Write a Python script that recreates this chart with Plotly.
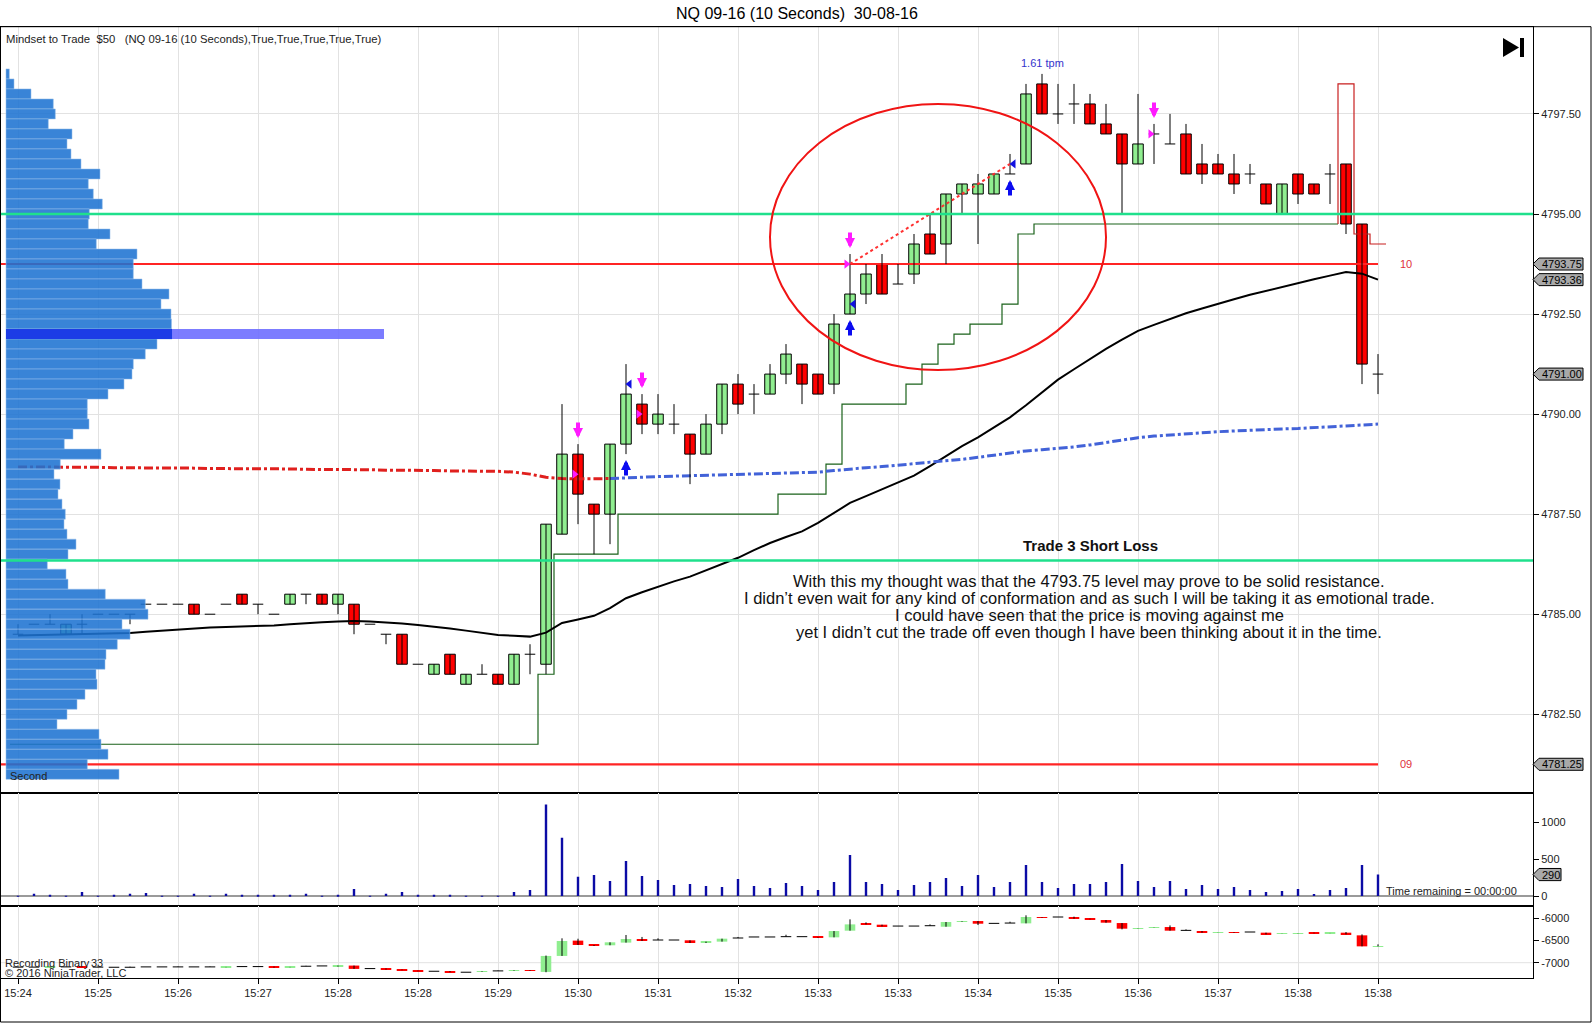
import plotly.graph_objects as go

W, H = 1594, 1024

# ---- price bars (10 second NQ 09-16) ----
TIME_LABELS = ["15:24", "15:25", "15:26", "15:27", "15:28", "15:28", "15:29", "15:30", "15:31",
               "15:32", "15:33", "15:33", "15:34", "15:35", "15:36", "15:37", "15:38", "15:38"]
LABEL_EVERY = 5

OPEN = [4784.5, 4784.75, 4784.75, 4784.5, 4784.75, 4785.0, 4785.0, 4785.0, 4785.25, 4785.25,
        4785.25, 4785.25, 4785.0, 4785.25, 4785.5, 4785.25, 4785.0, 4785.25, 4785.5, 4785.5,
        4785.25, 4785.25, 4784.75, 4784.5, 4784.5, 4783.75, 4783.5, 4784.0, 4783.25, 4783.5,
        4783.5, 4783.25, 4784.0, 4783.75, 4787.0, 4789.0, 4787.75, 4787.5, 4789.25, 4790.25,
        4789.75, 4789.75, 4789.5, 4789.0, 4789.75, 4790.75, 4790.5, 4790.5, 4791.0, 4791.25,
        4791.0, 4790.75, 4792.5, 4793.0, 4793.75, 4793.25, 4793.5, 4794.5, 4794.25, 4795.5,
        4795.5, 4795.5, 4796.0, 4796.25, 4798.25, 4797.5, 4797.75, 4797.75, 4797.25, 4797.0,
        4796.25, 4797.0, 4796.75, 4797.0, 4796.25, 4796.25, 4796.0, 4796.0, 4795.75, 4795.0,
        4796.0, 4795.75, 4796.0, 4796.25, 4794.75, 4791.0]
HIGH = [4784.75, 4784.75, 4785.0, 4784.75, 4785.0, 4785.0, 4785.0, 4785.0, 4785.25, 4785.25,
        4785.25, 4785.25, 4785.0, 4785.25, 4785.5, 4785.25, 4785.0, 4785.5, 4785.5, 4785.5,
        4785.5, 4785.25, 4784.75, 4784.5, 4784.5, 4783.75, 4783.75, 4784.0, 4783.5, 4783.75,
        4783.5, 4784.0, 4784.25, 4787.25, 4790.25, 4789.25, 4787.75, 4789.25, 4791.25, 4790.5,
        4790.5, 4790.25, 4789.5, 4790.0, 4790.75, 4791.0, 4790.75, 4791.25, 4791.75, 4791.25,
        4791.0, 4792.5, 4794.0, 4793.75, 4794.0, 4793.75, 4794.5, 4795.0, 4795.5, 4795.75,
        4796.0, 4796.0, 4796.5, 4798.25, 4798.5, 4798.25, 4798.25, 4798.0, 4797.75, 4797.0,
        4798.0, 4797.25, 4797.5, 4797.25, 4796.75, 4796.5, 4796.5, 4796.25, 4795.75, 4795.75,
        4796.0, 4795.75, 4796.25, 4796.25, 4794.75, 4791.5]
LOW = [4784.5, 4784.75, 4784.75, 4784.5, 4784.5, 4785.0, 4785.0, 4784.75, 4785.25, 4785.25,
       4785.25, 4785.0, 4785.0, 4785.25, 4785.25, 4785.0, 4785.0, 4785.25, 4785.25, 4785.25,
       4785.0, 4784.5, 4784.75, 4784.25, 4783.75, 4783.75, 4783.5, 4783.5, 4783.25, 4783.5,
       4783.25, 4783.25, 4783.5, 4783.5, 4787.0, 4787.25, 4786.5, 4786.75, 4789.0, 4789.5,
       4789.5, 4789.5, 4788.25, 4789.0, 4789.5, 4790.0, 4790.0, 4790.5, 4790.75, 4790.25,
       4790.5, 4790.5, 4792.5, 4792.75, 4793.0, 4793.25, 4793.25, 4794.0, 4793.75, 4795.0,
       4794.25, 4795.5, 4796.0, 4796.25, 4797.5, 4797.25, 4797.25, 4797.25, 4797.0, 4795.0,
       4796.25, 4796.25, 4796.75, 4796.0, 4795.75, 4796.0, 4795.5, 4795.75, 4795.25, 4795.0,
       4795.25, 4795.5, 4795.25, 4794.5, 4790.75, 4790.5]
CLOSE = [4784.5, 4784.75, 4784.75, 4784.75, 4784.75, 4785.0, 4785.0, 4785.0, 4785.25, 4785.25,
         4785.25, 4785.0, 4785.0, 4785.25, 4785.25, 4785.25, 4785.0, 4785.5, 4785.5, 4785.25,
         4785.5, 4784.75, 4784.75, 4784.5, 4783.75, 4783.75, 4783.75, 4783.5, 4783.5, 4783.5,
         4783.25, 4784.0, 4784.0, 4787.25, 4789.0, 4788.0, 4787.5, 4789.25, 4790.5, 4789.75,
         4790.0, 4789.75, 4789.0, 4789.75, 4790.75, 4790.25, 4790.5, 4791.0, 4791.5, 4790.75,
         4790.5, 4792.25, 4793.0, 4793.5, 4793.0, 4793.25, 4794.25, 4794.0, 4795.5, 4795.75,
         4795.75, 4796.0, 4796.0, 4798.0, 4797.5, 4797.5, 4797.75, 4797.25, 4797.0, 4796.25,
         4796.75, 4797.0, 4796.75, 4796.0, 4796.0, 4796.0, 4795.75, 4796.0, 4795.25, 4795.75,
         4795.5, 4795.5, 4796.0, 4794.75, 4791.25, 4791.0]

VOLUME = [3, 31, 18, 3, 54, 3, 18, 31, 40, 3,
          3, 31, 3, 31, 18, 18, 18, 18, 31, 3,
          18, 94, 3, 31, 54, 18, 18, 18, 3, 3,
          3, 54, 81, 1237, 787, 261, 283, 202, 472, 270,
          216, 148, 162, 135, 122, 230, 135, 108, 176, 135,
          81, 189, 554, 189, 162, 81, 149, 189, 243, 135,
          284, 122, 189, 419, 189, 108, 162, 162, 189, 432,
          203, 122, 203, 95, 149, 95, 122, 81, 54, 68,
          95, 27, 81, 108, 419, 290]

SMA = [4784.47, 4784.48, 4784.49, 4784.5, 4784.51, 4784.52, 4784.52, 4784.53, 4784.56, 4784.59,
       4784.62, 4784.65, 4784.67, 4784.68, 4784.69, 4784.7, 4784.72, 4784.75, 4784.78, 4784.8,
       4784.82, 4784.83, 4784.82, 4784.8, 4784.77, 4784.73, 4784.69, 4784.64, 4784.59, 4784.54,
       4784.48, 4784.46, 4784.44, 4784.54, 4784.78, 4784.87, 4784.96, 4785.15, 4785.4, 4785.55,
       4785.69, 4785.82, 4785.94, 4786.1, 4786.25, 4786.41, 4786.6, 4786.78, 4786.93, 4787.07,
       4787.28, 4787.52, 4787.78, 4787.95, 4788.12, 4788.29, 4788.46, 4788.7, 4788.95, 4789.2,
       4789.42, 4789.66, 4789.92, 4790.22, 4790.54, 4790.86, 4791.12, 4791.38, 4791.63, 4791.86,
       4792.08, 4792.23, 4792.38, 4792.52, 4792.64, 4792.76, 4792.87, 4792.98, 4793.08, 4793.18,
       4793.28, 4793.37, 4793.46, 4793.55, 4793.51, 4793.36]

VWAP = [4788.68, 4788.68, 4788.68, 4788.67, 4788.67, 4788.67, 4788.66, 4788.66, 4788.66, 4788.65,
        4788.65, 4788.65, 4788.64, 4788.64, 4788.64, 4788.63, 4788.63, 4788.63, 4788.62, 4788.62,
        4788.62, 4788.61, 4788.61, 4788.6, 4788.6, 4788.59, 4788.59, 4788.58, 4788.58, 4788.57,
        4788.57, 4788.55, 4788.5, 4788.42, 4788.39, 4788.38, 4788.38, 4788.39, 4788.41, 4788.43,
        4788.44, 4788.45, 4788.46, 4788.47, 4788.48, 4788.49, 4788.5, 4788.51, 4788.52, 4788.53,
        4788.55, 4788.59, 4788.63, 4788.66, 4788.69, 4788.72, 4788.76, 4788.8, 4788.83, 4788.87,
        4788.92, 4788.97, 4789.02, 4789.08, 4789.11, 4789.14, 4789.18, 4789.23, 4789.29, 4789.36,
        4789.41, 4789.45, 4789.48, 4789.51, 4789.54, 4789.56, 4789.58, 4789.6, 4789.61, 4789.63,
        4789.64, 4789.66, 4789.68, 4789.7, 4789.73, 4789.75]
VWAP_SWITCH_BAR = 37

# trailing stop, long side (bars 0..82) then short side (bars 83..85)
LONG_STOP = [4781.75, 4781.75, 4781.75, 4781.75, 4781.75, 4781.75, 4781.75, 4781.75, 4781.75, 4781.75,
             4781.75, 4781.75, 4781.75, 4781.75, 4781.75, 4781.75, 4781.75, 4781.75, 4781.75, 4781.75,
             4781.75, 4781.75, 4781.75, 4781.75, 4781.75, 4781.75, 4781.75, 4781.75, 4781.75, 4781.75,
             4781.75, 4781.75, 4781.75, 4783.5, 4786.5, 4786.5, 4786.5, 4786.5, 4787.5, 4787.5,
             4787.5, 4787.5, 4787.5, 4787.5, 4787.5, 4787.5, 4787.5, 4787.5, 4788.0, 4788.0,
             4788.0, 4788.75, 4790.25, 4790.25, 4790.25, 4790.25, 4790.75, 4791.25, 4791.75, 4792.0,
             4792.25, 4792.25, 4792.75, 4794.5, 4794.75, 4794.75, 4794.75, 4794.75, 4794.75, 4794.75,
             4794.75, 4794.75, 4794.75, 4794.75, 4794.75, 4794.75, 4794.75, 4794.75, 4794.75, 4794.75,
             4794.75, 4794.75, 4794.75]
SHORT_STOP = [4798.25, 4794.5, 4794.25]

# lower panel candles
DELTA_OPEN = [-7100, -7100, -7100, -7095, -7095, -7100, -7103, -7103, -7095, -7095,
              -7095, -7095, -7095, -7103, -7088, -7088, -7088, -7103, -7080, -7073,
              -7088, -7065, -7133, -7140, -7155, -7178, -7193, -7200, -7215, -7208,
              -7185, -7185, -7170, -7208, -6848, -6503, -6601, -6608, -6548, -6466,
              -6489, -6489, -6496, -6556, -6526, -6444, -6421, -6421, -6414, -6414,
              -6421, -6429, -6279, -6122, -6144, -6175, -6175, -6167, -6190, -6077,
              -6062, -6114, -6107, -6114, -5971, -5971, -5993, -6009, -6039, -6107,
              -6234, -6204, -6197, -6272, -6287, -6317, -6309, -6309, -6324, -6350,
              -6339, -6324, -6335, -6324, -6384, -6632]
DELTA_HIGH = [-7090, -7100, -7090, -7095, -7095, -7090, -7103, -7090, -7095, -7095,
              -7085, -7095, -7085, -7095, -7080, -7088, -7088, -7095, -7070, -7073,
              -7065, -7065, -7133, -7130, -7155, -7178, -7193, -7190, -7215, -7193,
              -7175, -7170, -7170, -6840, -6451, -6460, -6601, -6541, -6376, -6420,
              -6451, -6489, -6496, -6526, -6459, -6420, -6421, -6421, -6370, -6414,
              -6421, -6287, -6024, -6092, -6144, -6175, -6175, -6137, -6084, -6062,
              -6062, -6114, -6077, -5933, -5971, -5971, -5963, -6009, -6039, -6107,
              -6226, -6197, -6160, -6250, -6287, -6312, -6309, -6309, -6324, -6345,
              -6332, -6324, -6330, -6310, -6362, -6587]
DELTA_LOW = [-7100, -7100, -7100, -7095, -7100, -7100, -7103, -7103, -7095, -7095,
             -7095, -7095, -7095, -7103, -7088, -7088, -7110, -7103, -7080, -7073,
             -7088, -7140, -7133, -7155, -7170, -7193, -7193, -7215, -7215, -7208,
             -7185, -7185, -7185, -7215, -6848, -6601, -6623, -6608, -6548, -6511,
             -6489, -6489, -6556, -6556, -6526, -6444, -6421, -6421, -6414, -6414,
             -6436, -6429, -6279, -6137, -6182, -6175, -6175, -6167, -6190, -6077,
             -6152, -6114, -6107, -6114, -5986, -5971, -6009, -6024, -6099, -6249,
             -6234, -6204, -6279, -6272, -6324, -6317, -6324, -6309, -6362, -6350,
             -6339, -6339, -6335, -6362, -6632, -6632]
DELTA_CLOSE = [-7100, -7100, -7095, -7095, -7100, -7100, -7103, -7103, -7095, -7095,
               -7095, -7095, -7095, -7095, -7088, -7088, -7110, -7095, -7080, -7073,
               -7073, -7140, -7133, -7155, -7170, -7193, -7193, -7215, -7215, -7193,
               -7185, -7170, -7185, -6848, -6511, -6601, -6623, -6541, -6466, -6511,
               -6489, -6489, -6556, -6526, -6459, -6444, -6421, -6421, -6414, -6414,
               -6436, -6287, -6137, -6137, -6182, -6175, -6175, -6167, -6084, -6062,
               -6122, -6114, -6107, -5971, -5986, -5971, -6009, -6024, -6099, -6234,
               -6226, -6197, -6279, -6272, -6324, -6312, -6324, -6309, -6362, -6345,
               -6332, -6339, -6330, -6362, -6632, -6627]

# session volume profile, one row per tick from the top price down
PROFILE_TOP = 4798.5
TICK = 0.25
PROFILE_VOLUME = [33, 80, 250, 473, 493, 423, 660, 610, 650, 750,
                  940, 823, 873, 963, 833, 823, 1040, 903, 1310, 1273,
                  1273, 1360, 1630, 1550, 1650, 1655, 1660, 1510, 1393, 1273,
                  1260, 1180, 1020, 813, 813, 830, 670, 583, 950, 543,
                  480, 540, 520, 560, 593, 580, 610, 700, 620, 413,
                  600, 620, 993, 1393, 1420, 1160, 1240, 1113, 1000, 990,
                  900, 910, 790, 710, 610, 510, 930, 950, 1020, 813, 1130]
POC_PRICE = 4792.0
POC_EXTEND = 3780

GREEN_LEVELS = [4795.0, 4786.34]
RED_LEVELS = [4793.75, 4781.25]
RED_LEVEL_NAMES = ["10", "09"]

SHORT_SIGNAL_BARS = [35, 39, 52, 71]
SHORT_FILL_PRICES = [4788.5, 4790.0, 4793.75, 4797.0]
LONG_SIGNAL_BARS = [38, 52, 62]
EXIT_FILL_PRICES = [4790.75, 4792.75, 4796.25]
TRADE_BARS = [52, 62]
TRADE_PRICES = [4793.75, 4796.25]
TPM_BAR, TPM_TEXT = 64, "1.61 tpm"
ELLIPSE = dict(x0=47.0, x1=68.0, y0=4791.1, y1=4797.75)

NOTE_TITLE = "Trade 3 Short Loss"
NOTE_LINES = [
    "With this my thought was that the 4793.75 level may prove to be solid resistance.",
    "I didn’t even wait for any kind of conformation and as such I will be taking it as emotional trade.",
    "I could have seen that the price is moving against me",
    "yet I didn’t cut the trade off even though I have been thinking about it in the time.",
]

# ---- geometry (pixels of the 1594x1024 page) ----
PLOT_L, PLOT_R = 1, 1533
MAIN_TOP, MAIN_BOT, VOL_BOT, DELTA_BOT = 26.7, 792.7, 906, 978
BAR0_PX, BAR_PX = 18, 16
FONT = "Liberation Sans, Arial, sans-serif"
GRID = "#e2e2e2"
UP, DOWN = "#90ee90", "#ff0000"
NOTE_Y = [580.5, 597.8, 615, 632.3]


def px(x):
    return x / W


def py(y):
    return 1 - y / H


XR = [(PLOT_L - BAR0_PX) / BAR_PX, (PLOT_R - BAR0_PX) / BAR_PX]
XDOM = [px(PLOT_L), px(PLOT_R)]
BARS = list(range(len(OPEN)))
LAST = BARS[-1]

fig = go.Figure()


def add_candles(o, h, l, c, xa, ya, width, outline):
    idx = list(range(len(o)))
    wx, wy = [], []
    for i in idx:
        wx += [i, i, None]
        wy += [l[i], h[i], None]
    fig.add_trace(go.Scatter(x=wx, y=wy, mode="lines", line=dict(color="black", width=1),
                             xaxis=xa, yaxis=ya, hoverinfo="skip"))
    body = [i for i in idx if c[i] != o[i]]
    fig.add_trace(go.Bar(x=body, base=[min(o[i], c[i]) for i in body],
                         y=[abs(c[i] - o[i]) for i in body], width=width,
                         marker=dict(color=[UP if c[i] > o[i] else DOWN for i in body],
                                     line=dict(color="black", width=1 if outline else 0)),
                         xaxis=xa, yaxis=ya, hoverinfo="skip"))
    dx, dy = [], []
    for i in idx:
        if c[i] == o[i]:
            dx += [i - width / 2, i + width / 2, None]
            dy += [o[i], o[i], None]
    fig.add_trace(go.Scatter(x=dx, y=dy, mode="lines", line=dict(color="black", width=1),
                             xaxis=xa, yaxis=ya, hoverinfo="skip"))


def note(text, x, y, size, color="#222", anchor="center"):
    fig.add_annotation(x=px(x), y=py(y), xref="paper", yref="paper", text=text, showarrow=False,
                       xanchor=anchor, yanchor="middle", font=dict(family=FONT, size=size, color=color))


# red levels (drawn under the profile)
for lvl in RED_LEVELS:
    fig.add_trace(go.Scatter(x=[XR[0], LAST], y=[lvl, lvl], mode="lines",
                             line=dict(color="#ff2424", width=2.2), hoverinfo="skip"))

# trailing stop
stop_x = [i - 0.5 for i in range(len(LONG_STOP))] + [len(LONG_STOP) - 0.5]
fig.add_trace(go.Scatter(x=stop_x, y=LONG_STOP + [LONG_STOP[-1]], mode="lines", line_shape="hv",
                         line=dict(color="#1a621a", width=1.2), hoverinfo="skip"))
short_x = [len(LONG_STOP) - 0.5] + [len(LONG_STOP) - 0.5 + k for k in range(len(SHORT_STOP) + 1)]
short_y = [LONG_STOP[-1]] + SHORT_STOP + [SHORT_STOP[-1]]
fig.add_trace(go.Scatter(x=short_x, y=short_y, mode="lines", line_shape="hv",
                         line=dict(color="#c81e1e", width=1.2), hoverinfo="skip"))

# moving averages
fig.add_trace(go.Scatter(x=BARS, y=SMA, mode="lines", line=dict(color="black", width=2), hoverinfo="skip"))
dash = "9px,3px,3px,3px"
fig.add_trace(go.Scatter(x=BARS[:VWAP_SWITCH_BAR + 1], y=VWAP[:VWAP_SWITCH_BAR + 1], mode="lines",
                         line=dict(color="#e0201e", width=3, dash=dash), hoverinfo="skip"))
fig.add_trace(go.Scatter(x=BARS[VWAP_SWITCH_BAR:], y=VWAP[VWAP_SWITCH_BAR:], mode="lines",
                         line=dict(color="#4262d8", width=3, dash=dash), hoverinfo="skip"))

add_candles(OPEN, HIGH, LOW, CLOSE, "x", "y", 0.66, True)

# trade line and fills
fig.add_trace(go.Scatter(x=TRADE_BARS, y=TRADE_PRICES, mode="lines",
                         line=dict(color="#ff3030", width=2, dash="dot"), hoverinfo="skip"))
fig.add_trace(go.Scatter(x=[b - 0.22 for b in SHORT_SIGNAL_BARS], y=SHORT_FILL_PRICES, mode="markers",
                         marker=dict(symbol="triangle-right", size=8, color="#ff1aff"), hoverinfo="skip"))
fig.add_trace(go.Scatter(x=[b + 0.22 for b in LONG_SIGNAL_BARS], y=EXIT_FILL_PRICES, mode="markers",
                         marker=dict(symbol="triangle-left", size=8, color="#1010e0"), hoverinfo="skip"))

# volume
fig.add_trace(go.Bar(x=BARS, y=VOLUME, width=0.15, marker=dict(color="#0b0ba5", line=dict(width=0)),
                     xaxis="x2", yaxis="y2", hoverinfo="skip"))

# lower panel
add_candles(DELTA_OPEN, DELTA_HIGH, DELTA_LOW, DELTA_CLOSE, "x3", "y3", 0.66, False)

# volume profile (overlay axis)
prof_prices = [PROFILE_TOP - TICK * k for k in range(len(PROFILE_VOLUME))]
fig.add_trace(go.Bar(y=prof_prices, x=PROFILE_VOLUME, orientation="h", width=TICK,
                     marker=dict(color="rgba(30,115,210,0.88)", line=dict(color="rgba(150,190,235,0.9)", width=0.6)),
                     xaxis="x4", yaxis="y", hoverinfo="skip"))
poc_vol = PROFILE_VOLUME[prof_prices.index(POC_PRICE)]
fig.add_trace(go.Bar(y=[POC_PRICE], x=[poc_vol], orientation="h", width=TICK,
                     marker=dict(color="#1c3ce6", line=dict(width=0)), xaxis="x4", yaxis="y", hoverinfo="skip"))
fig.add_trace(go.Bar(y=[POC_PRICE], x=[POC_EXTEND - poc_vol], base=[poc_vol], orientation="h", width=TICK,
                     marker=dict(color="rgba(110,110,255,0.9)", line=dict(width=0)), xaxis="x4", yaxis="y",
                     hoverinfo="skip"))

# green levels and ellipse above everything
for lvl in GREEN_LEVELS:
    fig.add_shape(type="line", xref="paper", yref="y", x0=XDOM[0], x1=XDOM[1], y0=lvl, y1=lvl,
                  line=dict(color="#1fe08c", width=2.5), layer="above")
fig.add_shape(type="circle", xref="x", yref="y", line=dict(color="#f01414", width=2), layer="above", **ELLIPSE)

# lower panel grid line
fig.add_shape(type="line", xref="paper", yref="y3", x0=XDOM[0], x1=XDOM[1], y0=-7000, y1=-7000,
              line=dict(color=GRID, width=1), layer="below")

# signal arrows
for b in SHORT_SIGNAL_BARS:
    fig.add_annotation(x=b, y=HIGH[b], xref="x", yref="y", text="", showarrow=True, ax=0, ay=-17,
                       yshift=6, arrowhead=2, arrowsize=0.5, arrowwidth=4, arrowcolor="#ff1aff")
for b in LONG_SIGNAL_BARS:
    fig.add_annotation(x=b, y=LOW[b], xref="x", yref="y", text="", showarrow=True, ax=0, ay=17,
                       yshift=-6, arrowhead=2, arrowsize=0.5, arrowwidth=4, arrowcolor="#0b0bf0")

fig.add_annotation(x=TPM_BAR, y=HIGH[TPM_BAR], xref="x", yref="y", text=TPM_TEXT, showarrow=False,
                   yshift=11, font=dict(family=FONT, size=11, color="#3333cc"))

for lvl, name in zip(RED_LEVELS, RED_LEVEL_NAMES):
    fig.add_annotation(x=px(1406), y=lvl, xref="paper", yref="y", text=name, showarrow=False,
                       xanchor="center", yanchor="middle", font=dict(family=FONT, size=11, color="#e0303a"))

# notes
note("<b>" + NOTE_TITLE + "</b>", 1090, 545, 15, "#111")
for line, y in zip(NOTE_LINES, NOTE_Y):
    note(line, 1089, y, 16.5, "#111")

# header / footer texts
note("NQ 09-16 (10 Seconds)\u00a0\u00a030-08-16", 797, 13, 16, "black")
note("Mindset to Trade\u00a0\u00a0$50\u00a0\u00a0\u00a0(NQ 09-16 (10 Seconds),True,True,True,True,True)",
     4, 39, 11.3, anchor="left")
note("Second", 8, 776, 11, anchor="left")
note("Time remaining = 00:00:00", 1384, 891, 11, anchor="left")
note("Recording Binary", 3, 963, 11, anchor="left")
note("33", 89, 963, 11, anchor="left")
note("© 2016 NinjaTrader, LLC", 3, 973, 11, anchor="left")


# gray price tags on the right axis
def price_tag(text, value, yref, half, right):
    fig.add_shape(type="path", xref="paper", yref=yref, layer="above",
                  path=(f"M {px(PLOT_R)},{value} L {px(PLOT_R + 6)},{value + half} L {px(right)},{value + half} "
                        f"L {px(right)},{value - half} L {px(PLOT_R + 6)},{value - half} Z"),
                  fillcolor="#a9a9a9", line=dict(color="black", width=1))
    fig.add_annotation(x=px(PLOT_R + 7), y=value, xref="paper", yref=yref, xanchor="left", yanchor="middle",
                       showarrow=False, text=text, font=dict(family=FONT, size=11, color="black"))


price_tag(f"{RED_LEVELS[0]:.2f}", RED_LEVELS[0], "y", 0.15, 1583)
price_tag(f"{SMA[-1]:.2f}", SMA[-1], "y", 0.15, 1583)
price_tag(f"{CLOSE[-1]:.2f}", CLOSE[-1], "y", 0.15, 1583)
price_tag(f"{RED_LEVELS[1]:.2f}", RED_LEVELS[1], "y", 0.15, 1583)
price_tag(f"{VOLUME[-1]}", VOLUME[-1], "y2", 82, 1561)

# outer frame and "go to end" glyph
fig.add_shape(type="rect", xref="paper", yref="paper", x0=px(0.5), x1=px(1591), y0=py(1022), y1=py(MAIN_TOP),
              line=dict(color="black", width=1))
fig.add_shape(type="path", xref="paper", yref="paper", fillcolor="black", line=dict(width=0),
              path=f"M {px(1503)},{py(38)} L {px(1519)},{py(47.5)} L {px(1503)},{py(57)} Z")
fig.add_shape(type="rect", xref="paper", yref="paper", fillcolor="black", line=dict(width=0),
              x0=px(1520), x1=px(1524), y0=py(57), y1=py(38))

grid_ticks = BARS[::LABEL_EVERY]
tick_font = dict(family=FONT, size=11, color="#222")
xbase = dict(domain=XDOM, range=XR, tickvals=grid_ticks, showgrid=True, gridcolor=GRID, gridwidth=1,
             showline=True, linecolor="black", linewidth=1, mirror=True, zeroline=False, fixedrange=True)
ybase = dict(side="right", showline=True, linecolor="black", linewidth=1, mirror=True, ticks="outside",
             ticklen=5, tickcolor="black", tickfont=tick_font, fixedrange=True)

fig.update_layout(
    width=W, height=H, margin=dict(l=0, r=0, t=0, b=0),
    paper_bgcolor="white", plot_bgcolor="white", showlegend=False, barmode="overlay",
    hovermode=False, dragmode=False,
    xaxis=dict(xbase, anchor="y", showticklabels=False, ticks=""),
    xaxis2=dict(xbase, anchor="y2", showticklabels=False, ticks=""),
    xaxis3=dict(xbase, anchor="y3", ticktext=TIME_LABELS, ticks="outside", ticklen=5, tickcolor="black",
                tickfont=tick_font),
    xaxis4=dict(overlaying="x", anchor="y", range=[(PLOT_L - 6) * 10, (PLOT_R - 6) * 10], visible=False,
                fixedrange=True),
    yaxis=dict(ybase, anchor="x", domain=[py(MAIN_BOT), py(MAIN_TOP)], range=[4780.54, 4799.68],
               tick0=4782.5, dtick=2.5, tickformat=".2f", showgrid=True, gridcolor=GRID, zeroline=False),
    yaxis2=dict(ybase, anchor="x2", domain=[py(VOL_BOT), py(MAIN_BOT)], range=[-135, 1396],
                tickvals=[0, 500, 1000], showgrid=False, zeroline=True, zerolinecolor="#9a9a9a",
                zerolinewidth=1.5),
    yaxis3=dict(ybase, anchor="x3", domain=[py(DELTA_BOT), py(VOL_BOT)], range=[-7345, -5723],
                tickvals=[-7000, -6500, -6000], ticktext=["-7000", "-6500", "-6000"], showgrid=False,
                zeroline=False),
)

fig.write_html("out.html", config={"displayModeBar": False},
               post_script="document.body.style.margin='0';document.body.style.overflow='hidden';")
